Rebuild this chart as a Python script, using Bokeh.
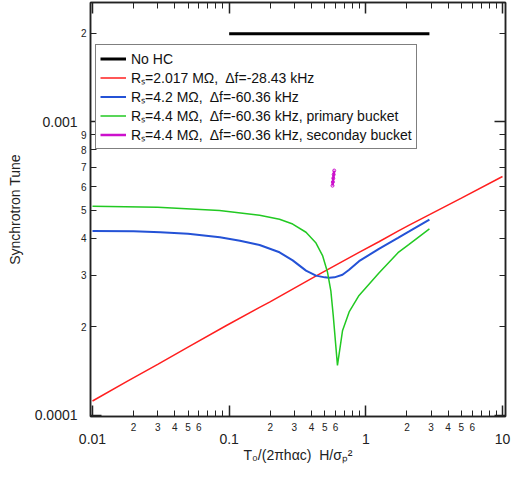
from bokeh.plotting import figure
from bokeh.models import (LogAxis, FixedTicker, CustomJSTickFormatter, Legend,
                          LegendItem, Range1d)
from bokeh.embed import file_html
from bokeh.resources import INLINE

# ---------------- data ----------------
nohc_x = [0.1, 0.15, 0.2, 0.3, 0.5, 0.7, 1.0, 1.5, 2.0, 2.92]
nohc_y = [0.00199, 0.00199, 0.00199, 0.00199, 0.00199, 0.00199, 0.00199, 0.00199, 0.00199, 0.00199]

red_x = [0.01, 0.0179, 0.03, 0.05, 0.0955, 0.167, 0.1975, 0.43, 0.892, 1.247, 1.72, 2.06, 5.0, 10.0]
red_y = [0.000112, 0.0001306, 0.0001493, 0.0001707, 0.0002023, 0.0002333, 0.000243, 0.000298,
         0.000359, 0.000390, 0.000424, 0.000443, 0.000549, 0.00065]

blue_x = [0.01, 0.02, 0.0313, 0.05, 0.0855, 0.12, 0.167, 0.2335, 0.2917, 0.365, 0.432, 0.5,
          0.54, 0.59, 0.675, 0.755, 0.892, 1.247, 1.72, 2.06, 2.92]
blue_y = [0.000424, 0.000423, 0.00042, 0.000415, 0.000404, 0.000393, 0.000380, 0.000359,
          0.000337, 0.000311, 0.000299, 0.000295, 0.000294, 0.000295, 0.000301, 0.000313,
          0.000335, 0.000369, 0.000402, 0.000422, 0.000464]

green_x = [0.01, 0.03, 0.085, 0.167, 0.2335, 0.2917, 0.365, 0.432, 0.4824, 0.5246, 0.555,
           0.577, 0.62, 0.675, 0.755, 0.892, 1.247, 1.72, 2.06, 2.92]
green_y = [0.000515, 0.000511, 0.000498, 0.000480, 0.000465, 0.000448, 0.00042, 0.000386,
           0.00035, 0.000307, 0.000265, 0.00022, 0.000148, 0.000194, 0.000225, 0.000256,
           0.000305, 0.000358, 0.000381, 0.000431]

sec_x = [0.5705, 0.574, 0.578, 0.582, 0.587]
sec_y = [0.000605, 0.000622, 0.000641, 0.00066, 0.000681]

labels = [
    "No HC",
    "Rₛ=2.017 MΩ,\u00a0 Δf=-28.43 kHz",
    "Rₛ=4.2 MΩ,\u00a0 Δf=-60.36 kHz",
    "Rₛ=4.4 MΩ,\u00a0 Δf=-60.36 kHz, primary bucket",
    "Rₛ=4.4 MΩ,\u00a0 Δf=-60.36 kHz, seconday bucket",
]
colors = ["black", "#ff1f1f", "#2452d6", "#22c922", "#cc10cc"]

x_title = "T₀/(2πhαc)\u00a0 H/σₚ²"
y_title = "Synchrotron Tune"

# ---------------- ticks ----------------
x_decades = [0.01, 0.1, 1.0, 10.0]
x_decade_labels = ["0.01", "0.1", "1", "10"]
x_minor = [0.02, 0.03, 0.04, 0.05, 0.06, 0.07, 0.08, 0.09,
           0.2, 0.3, 0.4, 0.5, 0.6, 0.7, 0.8, 0.9,
           2.0, 3.0, 4.0, 5.0, 6.0, 7.0, 8.0, 9.0]
x_minor_labels = ["2", "3", "4", "5", "6", "", "", ""] * 3

y_decades = [0.0001, 0.001]
y_decade_labels = ["0.0001", "0.001"]
y_minor = [0.0002, 0.0003, 0.0004, 0.0005, 0.0006, 0.0007, 0.0008, 0.0009, 0.002]
y_minor_labels = ["2", "3", "4", "5", "6", "7", "8", "9", "2"]

FONT = "Liberation Sans"

def fmt(ticks, labs):
    return CustomJSTickFormatter(args=dict(tv=ticks, tl=labs), code="""
        for (let i = 0; i < tv.length; i++) {
            if (Math.abs(Math.log10(tv[i]) - Math.log10(tick)) < 1e-6) return tl[i];
        }
        return "";
    """)

p = figure(x_axis_type="log", y_axis_type="log",
           x_range=Range1d(0.00967, 10.52), y_range=Range1d(0.0000992, 0.00254),
           frame_width=415, frame_height=414,
           x_axis_location=None, y_axis_location=None,
           output_backend="svg", toolbar_location=None,
           min_border_left=90, min_border_right=6, min_border_top=2, min_border_bottom=0)
p.xgrid.visible = False
p.ygrid.visible = False
p.outline_line_color = "#222222"
p.outline_line_width = 1.5
p.background_fill_color = "white"
p.border_fill_color = "white"

def frame_axis(ticks_minor, ticks_major, labs, show_labels, standoff=4):
    ax = LogAxis(ticker=FixedTicker(ticks=ticks_minor, minor_ticks=ticks_major),
                 formatter=fmt(ticks_minor, labs if show_labels else [""] * len(ticks_minor)))
    ax.axis_line_color = "#222222"
    ax.axis_line_width = 1.5
    ax.major_tick_in = 6
    ax.major_tick_out = 0
    ax.minor_tick_in = 11
    ax.minor_tick_out = 0
    ax.major_tick_line_color = "#222222"
    ax.minor_tick_line_color = "#222222"
    ax.major_tick_line_width = 1
    ax.minor_tick_line_width = 1.5
    ax.major_label_text_font = FONT
    if show_labels:
        ax.major_label_text_color = "#222222"
        ax.major_label_text_font_size = "10px"
        ax.major_label_standoff = standoff
    else:
        ax.major_label_text_color = None
        ax.major_label_text_font_size = "1px"
        ax.major_label_standoff = 0
    return ax

def label_axis(ticks, labs, title, standoff, title_standoff):
    ax = LogAxis(ticker=FixedTicker(ticks=ticks, minor_ticks=[]),
                 formatter=fmt(ticks, labs))
    ax.axis_line_color = None
    ax.major_tick_line_color = None
    ax.minor_tick_line_color = None
    ax.major_tick_in = 0
    ax.major_tick_out = 0
    ax.minor_tick_in = 0
    ax.minor_tick_out = 0
    ax.major_label_standoff = standoff
    ax.major_label_text_font = FONT
    ax.major_label_text_font_size = "14px"
    ax.major_label_text_color = "#222222"
    ax.axis_label = title
    ax.axis_label_text_font = FONT
    ax.axis_label_text_font_size = "14px"
    ax.axis_label_text_font_style = "normal"
    ax.axis_label_text_color = "#222222"
    ax.axis_label_standoff = title_standoff
    return ax

p.add_layout(frame_axis(x_minor, x_decades, x_minor_labels, True, 6), "below")
p.add_layout(label_axis(x_decades, x_decade_labels, x_title, 0, 0), "below")
p.add_layout(frame_axis(y_minor, y_decades, y_minor_labels, True, 4), "left")
p.add_layout(label_axis(y_decades, y_decade_labels, y_title, 0, 9), "left")
p.add_layout(frame_axis(x_minor, x_decades, x_minor_labels, False), "above")
p.add_layout(frame_axis(y_minor, y_decades, y_minor_labels, False), "right")

# ---------------- curves ----------------
r0 = p.line(nohc_x, nohc_y, line_color=colors[0], line_width=3)
r1 = p.line(red_x, red_y, line_color=colors[1], line_width=1.5)
r2 = p.line(blue_x, blue_y, line_color=colors[2], line_width=2)
r3 = p.line(green_x, green_y, line_color=colors[3], line_width=1.5)
r4 = p.line(sec_x, sec_y, line_color=colors[4], line_width=2.5)
r4s = p.scatter(sec_x, sec_y, marker="circle", size=3, fill_color=None,
                line_color=colors[4], line_width=1)
leg_marker = p.scatter([], [], marker="circle", size=9, fill_color=None,
                       line_color=colors[4], line_width=1.2)

legend = Legend(items=[
    LegendItem(label=labels[0], renderers=[r0]),
    LegendItem(label=labels[1], renderers=[r1]),
    LegendItem(label=labels[2], renderers=[r2]),
    LegendItem(label=labels[3], renderers=[r3]),
    LegendItem(label=labels[4], renderers=[r4, leg_marker]),
], location=(5, 267))
legend.border_line_color = "black"
legend.border_line_width = 1
legend.background_fill_color = "white"
legend.background_fill_alpha = 1
legend.padding = 4
legend.spacing = 0
legend.margin = 0
legend.label_height = 19
legend.glyph_height = 19
legend.glyph_width = 26
legend.label_standoff = 5
legend.label_text_font = FONT
legend.label_text_font_size = "14px"
legend.label_text_color = "#111111"
legend.label_text_baseline = "middle"
p.add_layout(legend, "center")

open("out.html", "w").write(file_html(p, INLINE))
